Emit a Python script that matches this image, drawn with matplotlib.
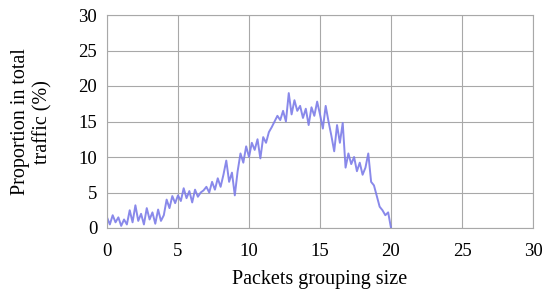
import numpy as np
import matplotlib
matplotlib.use("Agg")
import matplotlib.pyplot as plt

plt.rcParams['font.family'] = ['Liberation Serif', 'DejaVu Serif']

proportion = [
    1.5, 0.5, 1.8, 0.8, 1.5, 0.3, 1.2, 0.5, 2.5, 0.8,
    3.2, 1.0, 2.0, 0.5, 2.8, 1.2, 2.2, 0.6, 2.6, 1.0,
    1.8, 4.0, 2.8, 4.5, 3.5, 4.6, 3.8, 5.6, 4.2, 5.2,
    3.6, 5.4, 4.4, 5.0, 5.3, 5.8, 5.0, 6.5, 5.4, 7.0,
    5.8, 7.5, 9.5, 6.5, 7.8, 4.6, 8.0, 10.5, 9.2, 11.5,
    10.0, 12.0, 11.0, 12.5, 9.8, 12.8, 12.0, 13.5, 14.2, 15.0,
    15.8, 15.2, 16.5, 15.0, 19.0, 16.0, 18.0, 16.5, 17.2, 15.5,
    16.8, 14.5, 17.0, 15.8, 17.8, 16.0, 14.0, 17.2, 15.0, 13.0,
    10.8, 14.5, 12.0, 14.8, 8.5, 10.5, 9.0, 10.0, 8.0, 9.2,
    7.5, 8.5, 10.5, 6.5, 6.0, 4.5, 3.0, 2.5, 1.8, 2.2,
    0.0,
]
group_size = np.linspace(0, 20, len(proportion))
x_ticks = [0, 5, 10, 15, 20, 25, 30]
y_ticks = [0, 5, 10, 15, 20, 25, 30]

fig = plt.figure(figsize=(5.5, 2.96), dpi=100)
ax = fig.add_axes([107/550, 1-228/296, (533-107)/550, (228-15)/296])

ax.plot(group_size, proportion, color='#7c7ce8', lw=1.4, alpha=0.9)

ax.set_xlim(0, 30)
ax.set_ylim(0, 30)
ax.set_xticks(x_ticks)
ax.set_yticks(y_ticks)
ax.grid(True, color='#a8a8a8', lw=0.8)
ax.set_axisbelow(True)
for s in ax.spines.values():
    s.set_color('#a8a8a8')
    s.set_linewidth(0.8)
ax.tick_params(length=0, labelsize=13.5, pad=7)
ax.tick_params(axis='x', pad=11)

ax.set_xlabel('Packets grouping size', fontsize=14.5, labelpad=7)
fig.text(0.058, 0.588, 'Proportion in total\ntraffic (%)', rotation=90,
         ha='center', va='center', fontsize=14.5, linespacing=1.2)

fig.savefig('out.png', dpi=100)
